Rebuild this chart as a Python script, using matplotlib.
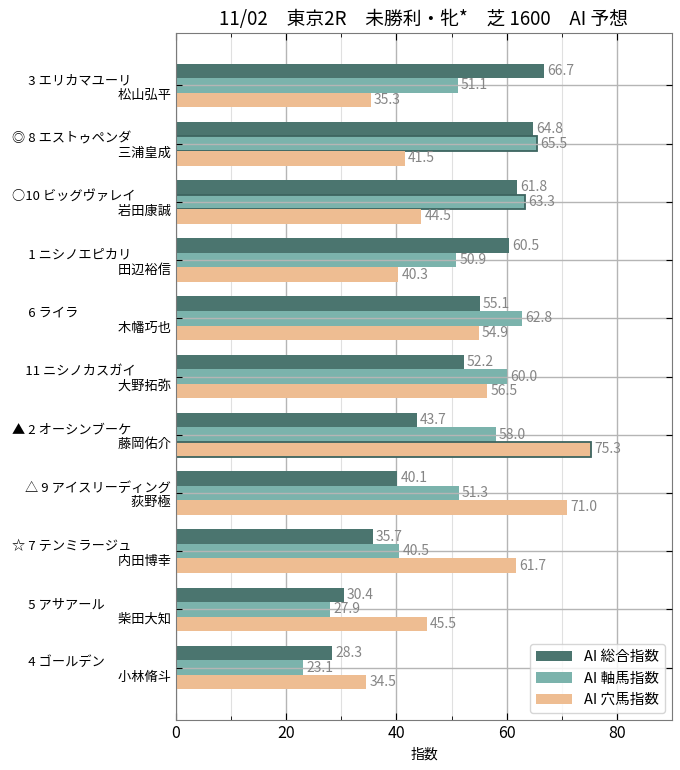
import numpy as np
import matplotlib
matplotlib.use("Agg")
import matplotlib.pyplot as plt
from matplotlib.ticker import MultipleLocator

plt.rcParams['font.family'] = ['Noto Sans CJK JP', 'DejaVu Sans']

# データ
marks = ["", "◎", "○", "", "", "", "▲", "△", "☆", "", ""]
numbers = [3, 8, 10, 1, 6, 11, 2, 9, 7, 5, 4]
horses = ["エリカマユーリ", "エストゥペンダ", "ビッグヴァレイ", "ニシノエピカリ", "ライラ",
          "ニシノカスガイ", "オーシンブーケ", "アイスリーディング", "テンミラージュ",
          "アサアール", "ゴールデン"]
jockeys = ["松山弘平", "三浦皇成", "岩田康誠", "田辺裕信", "木幡巧也", "大野拓弥",
           "藤岡佑介", "荻野極", "内田博幸", "柴田大知", "小林脩斗"]
sogo = [66.7, 64.8, 61.8, 60.5, 55.1, 52.2, 43.7, 40.1, 35.7, 30.4, 28.3]
jiku = [51.1, 65.5, 63.3, 50.9, 62.8, 60.0, 58.0, 51.3, 40.5, 27.9, 23.1]
ana = [35.3, 41.5, 44.5, 40.3, 54.9, 56.5, 75.3, 71.0, 61.7, 45.5, 34.5]
series_names = ["AI 総合指数", "AI 軸馬指数", "AI 穴馬指数"]
# 印に応じて強調する系列 (◎○ → 軸馬, ▲ → 穴馬)
highlight = {"◎": 1, "○": 1, "▲": 2}

colors = ["#4b756f", "#7bb3ac", "#eebd92"]
edge_col = "#3d6560"

labels = []
for m, n, h, j in zip(marks, numbers, horses, jockeys):
    line1 = f"{m if m else '　'}{n:>2} {h}"
    line2 = "　" * 8 + j
    labels.append(line1 + "\n" + line2)

fig = plt.figure(figsize=(6.8, 7.7), dpi=100)
ax = fig.add_axes([0.259, 0.065, 0.729, 0.892])

y = np.arange(len(numbers))
h = 0.25
for k, vals in enumerate([sogo, jiku, ana]):
    bars = ax.barh(y + (k - 1) * h, vals, height=h, color=colors[k],
                   label=series_names[k], zorder=2)
    for i, (b, v) in enumerate(zip(bars, vals)):
        if highlight.get(marks[i]) == k:
            b.set_edgecolor(edge_col)
            b.set_linewidth(1.3)
        ax.text(v + 0.6, y[i] + (k - 1) * h, f"{v:.1f}", va="center", ha="left",
                color="#858585", fontsize=10, zorder=4)

ax.set_xlim(0, 90)
ax.set_ylim(len(numbers) - 0.1, -0.9)
ax.set_yticks(y)
ax.set_yticklabels(labels, fontsize=9.5, ha="right", multialignment="left")
ax.xaxis.set_major_locator(MultipleLocator(20))
ax.xaxis.set_minor_locator(MultipleLocator(10))

ax.set_axisbelow(True)
ax.grid(axis="x", which="major", color="#b5b5b5", linewidth=1.0)
ax.grid(axis="x", which="minor", color="#e0e0e0", linewidth=0.8)
ax.grid(axis="y", which="major", color="#b5b5b5", linewidth=1.0)
ax.yaxis.set_zorder(3)

ax.tick_params(which="both", direction="in", top=True, right=True)
ax.tick_params(which="major", length=5, labelsize=11.5)
ax.tick_params(axis="y", which="major", labelsize=9.5, length=4)
ax.tick_params(which="minor", length=3)
for s in ax.spines.values():
    s.set_color("#7a7a7a")

ax.set_xlabel("指数", fontsize=10)
ax.set_title("11/02　東京2R　未勝利・牝*　芝 1600　AI 予想", fontsize=13.5, pad=6)
ax.legend(loc="lower right", fontsize=10.5, handlelength=2.5, edgecolor="#cccccc")

fig.savefig("out.png", dpi=100)
